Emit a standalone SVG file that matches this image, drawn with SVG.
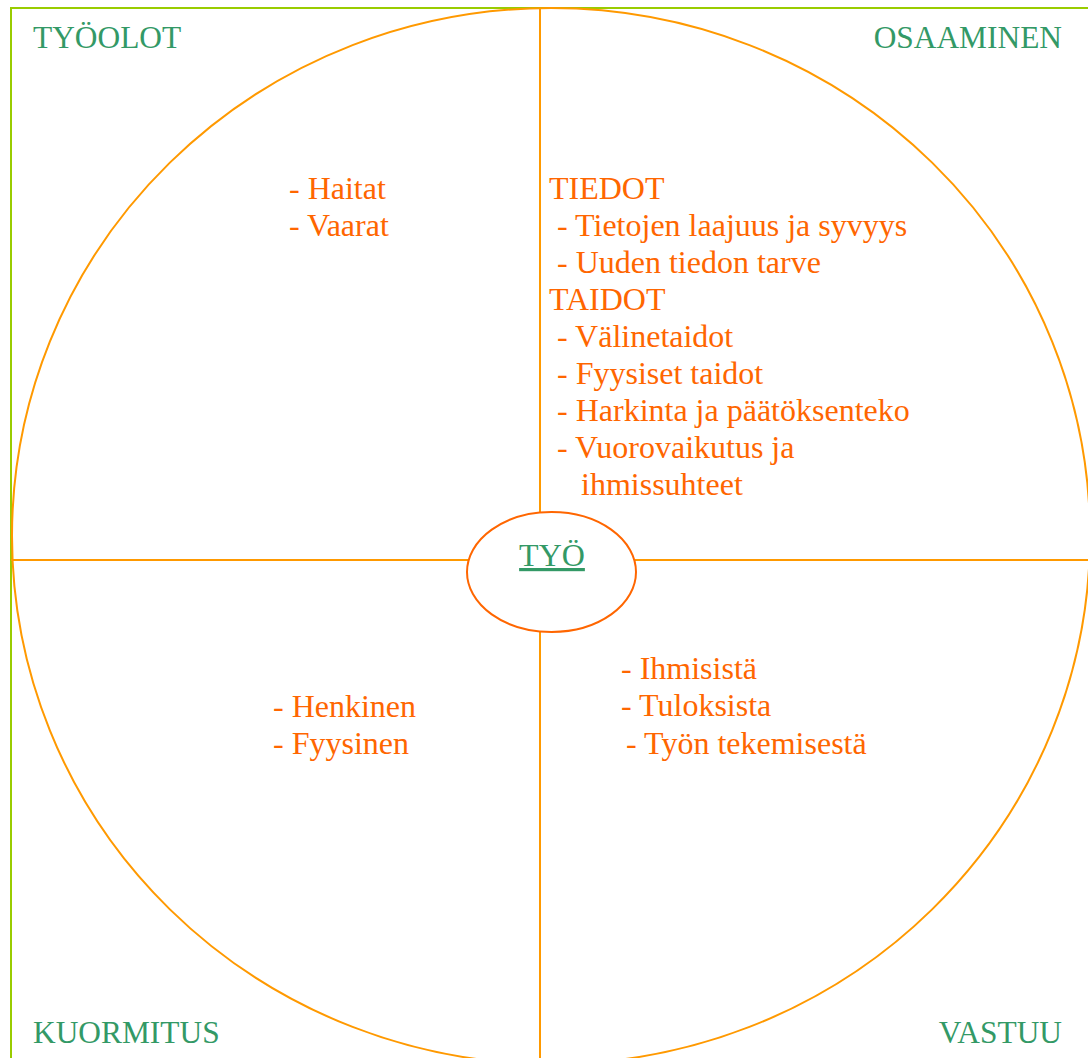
<svg xmlns="http://www.w3.org/2000/svg" width="1088" height="1058" viewBox="0 0 1088 1058">
<style>
text { font-family: "Liberation Serif", "Times New Roman", serif; font-size: 32px; }
.g { fill: #339966; }
.h { font-size: 31.4px; }
.o { fill: #ff6600; }
.line { stroke: #ff9900; stroke-width: 2; fill: none; }
.frame { stroke: #99cc00; stroke-width: 2; fill: none; }
</style>
<rect width="1088" height="1058" fill="#ffffff"/>
<g id="frame">
<path class="frame" d="M11,1058 V8 H1088"/>
</g>
<g id="circle">
<ellipse class="line" cx="551" cy="536" rx="539" ry="528"/>
</g>
<g id="connectors">
<line class="line" x1="540" y1="8" x2="540" y2="1058"/>
<line class="line" x1="11" y1="560" x2="1088" y2="560"/>
</g>
<g id="tyoolot">
<text class="g h" x="33" y="48">TYÖOLOT</text>
<text class="o" x="289" y="199">- Haitat</text>
<text class="o" x="289" y="236">- Vaarat</text>
</g>
<g id="osaaminen">
<text class="g h" x="1062" y="48" text-anchor="end">OSAAMINEN</text>
<text class="o" x="549" y="199">TIEDOT</text>
<text class="o" x="557" y="236">- Tietojen laajuus ja syvyys</text>
<text class="o" x="557" y="273">- Uuden tiedon tarve</text>
<text class="o" x="549" y="310">TAIDOT</text>
<text class="o" x="557" y="347">- Välinetaidot</text>
<text class="o" x="557" y="384">- Fyysiset taidot</text>
<text class="o" x="557" y="421">- Harkinta ja päätöksenteko</text>
<text class="o" x="557" y="458">- Vuorovaikutus ja</text>
<text class="o" x="581" y="495">ihmissuhteet</text>
</g>
<g id="kuormitus">
<text class="g h" x="33" y="1043">KUORMITUS</text>
<text class="o" x="273" y="717">- Henkinen</text>
<text class="o" x="273" y="754">- Fyysinen</text>
</g>
<g id="vastuu">
<text class="g h" x="1062" y="1043" text-anchor="end">VASTUU</text>
<text class="o" x="621" y="679">- Ihmisistä</text>
<text class="o" x="621" y="716">- Tuloksista</text>
<text class="o" x="626" y="754">- Työn tekemisestä</text>
</g>
<g id="tyo">
<ellipse cx="551.5" cy="572" rx="84.5" ry="60" fill="#ffffff" stroke="#ff6600" stroke-width="2"/>
<text class="g" x="552" y="566" text-anchor="middle" text-decoration="underline">TYÖ</text>
</g>
</svg>
